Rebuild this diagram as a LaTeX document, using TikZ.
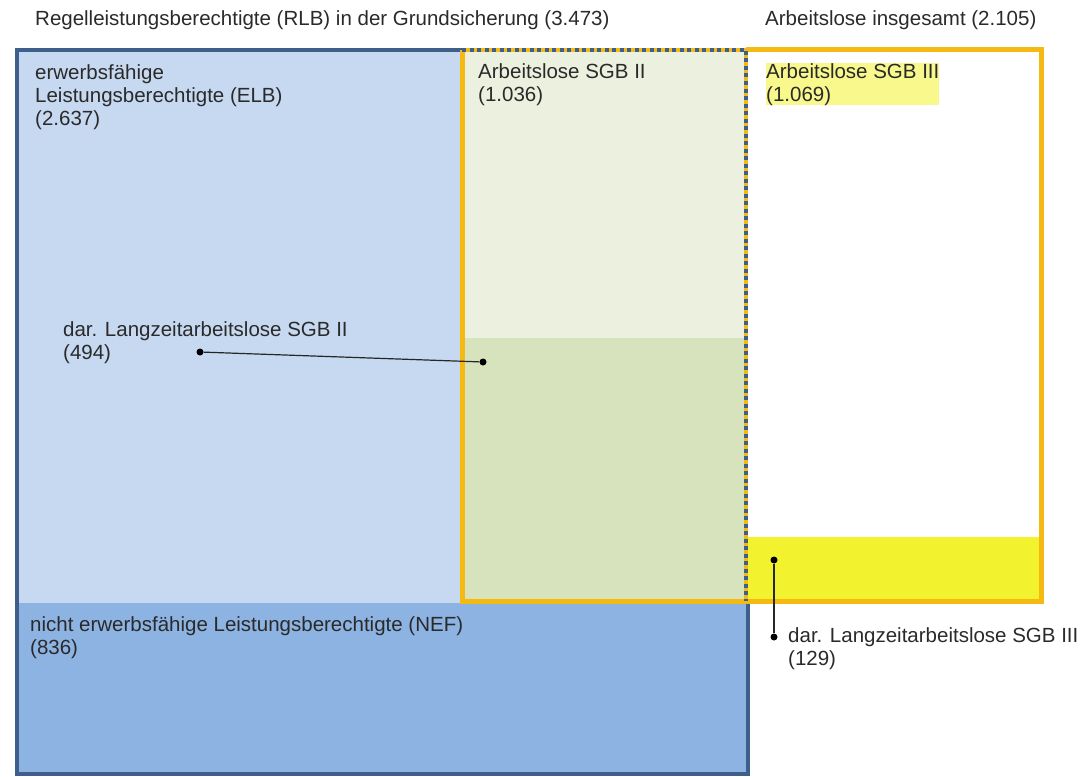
\documentclass[tikz,border=0pt]{standalone}
\usepackage{fontspec}
\setmainfont{Liberation Sans}
\definecolor{bordblue}{HTML}{3E5F8A}
\definecolor{elbfill}{HTML}{C6D9F1}
\definecolor{neffill}{HTML}{8DB3E2}
\definecolor{orng}{HTML}{F5BA12}
\definecolor{sgbup}{HTML}{EBF1DE}
\definecolor{sgblow}{HTML}{D7E3BC}
\definecolor{yel}{HTML}{F2F22E}
\definecolor{txt}{HTML}{2A2A2A}
\tikzset{
  lbl/.style={anchor=north west, align=left, inner sep=0pt, text=txt, font=\fontsize{20.5}{23}\selectfont},
  ttl/.style={anchor=north west, inner sep=0pt, text=txt, font=\fontsize{20.5}{23}\selectfont},
  dotc/.style={circle, fill=black, inner sep=0pt, minimum size=7pt},
  leader/.style={draw=black!85, line width=1.2pt}
}
\begin{document}
\begin{tikzpicture}[x=1pt,y=-1pt]
\useasboundingbox (0,0) rectangle (1083,776);
% fills
\fill[elbfill] (17,50) rectangle (748,603);
\fill[neffill] (17,603) rectangle (748,774);
\fill[sgbup] (462,50) rectangle (746,338);
\fill[sgblow] (462,338) rectangle (746,601);
\fill[white] (746,50) rectangle (1041,537);
\fill[yel] (746,537) rectangle (1041,601);
% blue borders
\draw[bordblue, line width=4pt] (462,50) -- (17,50) -- (17,774) -- (748,774) -- (748,601);
% orange borders
\draw[orng, line width=5pt] (462,50) -- (462,601) -- (746,601);
\draw[orng, line width=5pt] (746,50) -- (1041,50) -- (1041,601) -- (746,601);
% shared dashed borders
\draw[orng, line width=4pt] (462,50) -- (746,50) -- (746,601);
\draw[bordblue, line width=4pt, dash pattern=on 4pt off 3.5pt] (462,50) -- (746,50) -- (746,601);
% texts
\node[ttl] (rlb) at (35,10) {Regelleistungsberechtigte (RLB) in der Grundsicherung (3.473)};
\node[ttl] (alg) at (765,10) {Arbeitslose insgesamt (2.105)};
\node[lbl] (elb) at (35,64) {erwerbsfähige\\Leistungsberechtigte (ELB)\\(2.637)};
\node[lbl] (sgb2) at (478,63) {Arbeitslose SGB II\\(1.036)};
\node[lbl, fill=yel!55] (sgb3) at (766,63) {Arbeitslose SGB III\\(1.069)};
\node[lbl] (nef) at (30,616) {nicht erwerbsfähige Leistungsberechtigte (NEF)\\(836)};
\node[lbl] (lz2) at (63,321) {dar. Langzeitarbeitslose SGB II\\(494)};
\node[lbl] (lz3) at (788,627) {dar. Langzeitarbeitslose SGB III\\(129)};
% leaders
\node[dotc] (d2a) at (200,352) {};
\node[dotc] (d2b) at (483,362) {};
\draw[leader] (d2a) -- (d2b);
\node[dotc] (d3a) at (774,560) {};
\node[dotc] (d3b) at (774,637) {};
\draw[leader] (d3a) -- (d3b);
\end{tikzpicture}
\end{document}
